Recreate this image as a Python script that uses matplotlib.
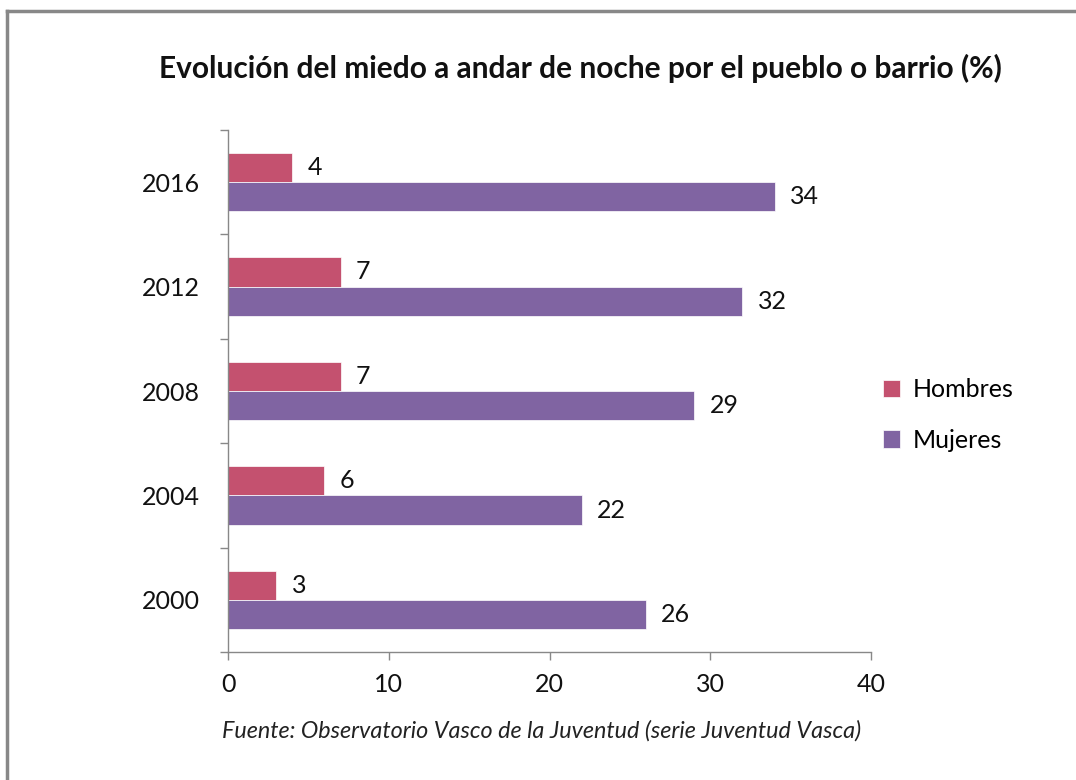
import matplotlib
matplotlib.use("Agg")
import matplotlib.pyplot as plt
from matplotlib.lines import Line2D
import numpy as np

years = ["2000", "2004", "2008", "2012", "2016"]
hombres = [3, 6, 7, 7, 4]
mujeres = [26, 22, 29, 32, 34]
series_names = ["Hombres", "Mujeres"]
colors = ["#C4516F", "#8064A2"]
title = "Evolución del miedo a andar de noche por el pueblo o barrio (%)"
source = "Fuente: Observatorio Vasco de la Juventud (serie Juventud Vasca)"

plt.rcParams['font.family'] = ['Lato', 'DejaVu Sans']

fig = plt.figure(figsize=(10.76, 7.8), dpi=100)
ax = fig.add_axes([228/1076, 1-652/780, (871-228)/1076, (652-130)/780])

y = np.arange(len(years))
h = 0.28
ax.barh(y + h/2, hombres, height=h, color=colors[0], label=series_names[0],
        edgecolor="white", linewidth=0.5)
ax.barh(y - h/2, mujeres, height=h, color=colors[1], label=series_names[1],
        edgecolor="white", linewidth=0.5)

for yy, v in zip(y + h/2, hombres):
    ax.annotate(str(v), (v, yy), xytext=(11, 0), textcoords="offset points",
                va="center", ha="left", fontsize=18, color="#111111")
for yy, v in zip(y - h/2, mujeres):
    ax.annotate(str(v), (v, yy), xytext=(11, 0), textcoords="offset points",
                va="center", ha="left", fontsize=18, color="#111111")

ax.set_xlim(0, 40)
ax.set_ylim(-0.5, len(years) - 0.5)
ax.set_xticks([0, 10, 20, 30, 40])
ax.set_yticks(y)
ax.set_yticklabels(years)
ax.set_yticks(np.arange(-0.5, len(years)), minor=True)
ax.tick_params(axis="y", which="major", length=0, pad=20, labelsize=18, labelcolor="#111111")
ax.tick_params(axis="y", which="minor", length=6, color="#888888", width=1)
ax.tick_params(axis="x", which="major", length=6, color="#888888", width=1, labelsize=18,
               pad=9, labelcolor="#111111")

for s in ["top", "right"]:
    ax.spines[s].set_visible(False)
for s in ["left", "bottom"]:
    ax.spines[s].set_color("#888888")
    ax.spines[s].set_linewidth(1)

ax.legend(loc="center left", bbox_to_anchor=(860/1076, 1-415/780), bbox_transform=fig.transFigure,
          frameon=False, fontsize=18, handlelength=0.7, handleheight=0.7, labelspacing=1.1,
          handletextpad=0.5)

fig.text(580/1076, 1-68/780, title, ha="center", va="center", fontsize=21.5, fontweight="bold",
         color="#111111")
fig.text(222/1076, 1-731/780, source, ha="left", va="center", fontsize=16.8, style="italic",
         color="#222222")

fig.lines.append(Line2D([7/1076, 7/1076], [0, 1 - 11/780], transform=fig.transFigure,
                        color="#888888", linewidth=2.5, solid_capstyle="projecting"))
fig.lines.append(Line2D([7/1076, 1], [1 - 11/780, 1 - 11/780], transform=fig.transFigure,
                        color="#888888", linewidth=2.5, solid_capstyle="projecting"))

fig.savefig("out.png", dpi=100)
